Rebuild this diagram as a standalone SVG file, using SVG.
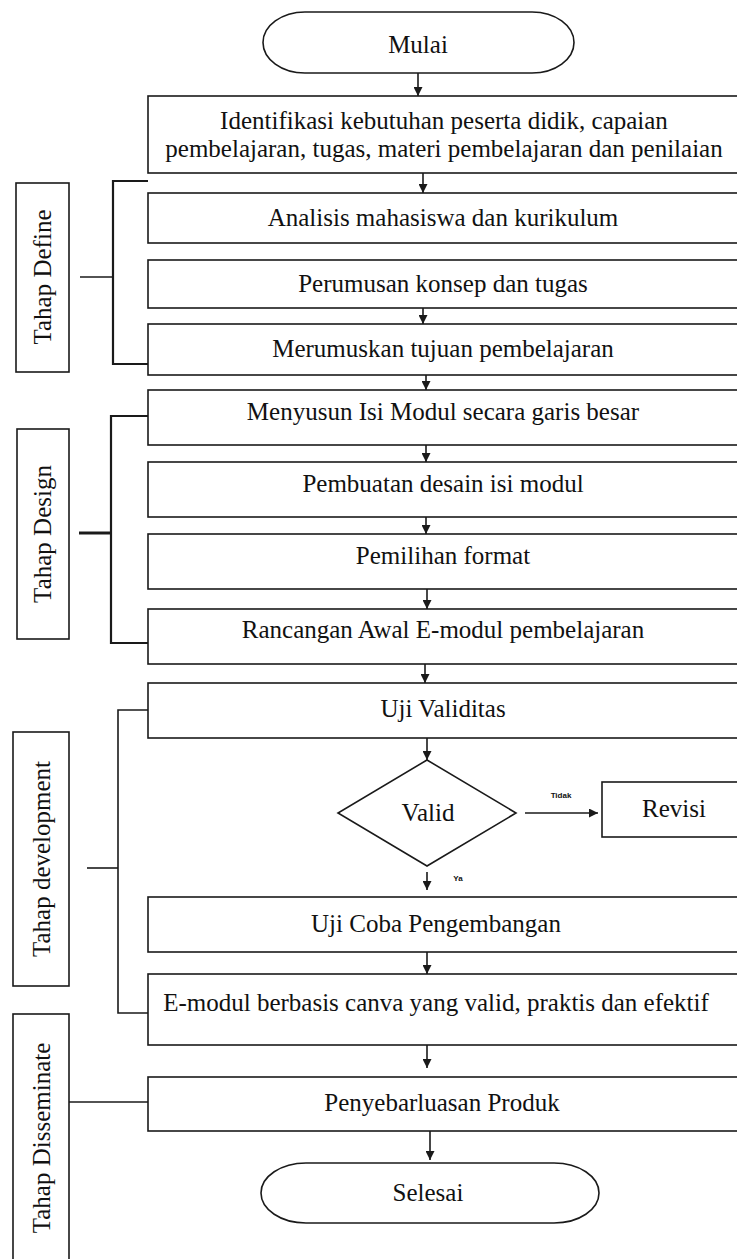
<svg xmlns="http://www.w3.org/2000/svg" width="737" height="1259" viewBox="0 0 737 1259">
<defs>
<style>
.b{fill:#fff;stroke:#1a1a1a;stroke-width:1.6}
.t{font-family:"Liberation Serif","Times New Roman",serif;font-size:25px;fill:#111;text-anchor:middle}
.l{fill:none;stroke:#1a1a1a;stroke-width:1.6}
.br{fill:none;stroke:#1a1a1a;stroke-width:2.2}
.s{font-family:"Liberation Sans",Arial,sans-serif;font-size:8px;font-weight:bold;fill:#111;text-anchor:middle}
</style>
<marker id="ah" viewBox="0 0 10 10" refX="10" refY="5" markerWidth="9" markerHeight="9" markerUnits="userSpaceOnUse" orient="auto">
<path d="M0,0 L10,5 L0,10 Z" fill="#1a1a1a"/>
</marker>
</defs>
<rect width="737" height="1259" fill="#fff"/>

<g id="connectors">
<line class="l" x1="418" y1="73" x2="418" y2="96" marker-end="url(#ah)"/>
<line class="l" x1="423" y1="173" x2="423" y2="193" marker-end="url(#ah)"/>
<line class="l" x1="423" y1="308" x2="423" y2="324" marker-end="url(#ah)"/>
<line class="l" x1="426" y1="375" x2="426" y2="390" marker-end="url(#ah)"/>
<line class="l" x1="426" y1="445" x2="426" y2="462" marker-end="url(#ah)"/>
<line class="l" x1="426" y1="517" x2="426" y2="534" marker-end="url(#ah)"/>
<line class="l" x1="427" y1="589" x2="427" y2="609" marker-end="url(#ah)"/>
<line class="l" x1="425" y1="664" x2="425" y2="683" marker-end="url(#ah)"/>
<line class="l" x1="427" y1="738" x2="427" y2="760" marker-end="url(#ah)"/>
<line class="l" x1="427" y1="872" x2="427" y2="890" marker-end="url(#ah)"/>
<line class="l" x1="427" y1="952" x2="427" y2="974" marker-end="url(#ah)"/>
<line class="l" x1="427" y1="1045" x2="427" y2="1068" marker-end="url(#ah)"/>
<line class="l" x1="430" y1="1131" x2="430" y2="1160" marker-end="url(#ah)"/>
<line class="l" x1="525" y1="813" x2="598" y2="813" marker-end="url(#ah)"/>
<text class="s" x="561" y="798">Tidak</text>
<text class="s" x="458" y="881">Ya</text>
<!-- phase brackets -->
<path class="br" d="M148,181 H113 V364 H148"/>
<line class="l" x1="80" y1="277" x2="113" y2="277"/>
<path class="br" d="M148,416 H111 V643 H148"/>
<line class="br" x1="79" y1="533" x2="111" y2="533" style="stroke-width:3"/>
<path class="l" d="M148,710 H118 V1013 H148"/>
<line class="l" x1="87" y1="868" x2="118" y2="868"/>
<line class="l" x1="69" y1="1102" x2="148" y2="1102"/>
</g>

<g id="mulai">
<rect class="b" x="263" y="12" width="311" height="61" rx="42" ry="30.5"/>
<text class="t" x="418" y="53">Mulai</text>
</g>
<g id="identifikasi">
<rect class="b" x="148" y="96" width="600" height="77"/>
<text class="t" x="444" y="129">Identifikasi kebutuhan peserta didik, capaian</text>
<text class="t" x="444" y="157">pembelajaran, tugas, materi pembelajaran dan penilaian</text>
</g>
<g id="analisis">
<rect class="b" x="148" y="193" width="600" height="50"/>
<text class="t" x="443" y="226">Analisis mahasiswa dan kurikulum</text>
</g>
<g id="perumusan">
<rect class="b" x="148" y="260" width="600" height="48"/>
<text class="t" x="443" y="292">Perumusan konsep dan tugas</text>
</g>
<g id="merumuskan">
<rect class="b" x="148" y="324" width="600" height="51"/>
<text class="t" x="443" y="357">Merumuskan tujuan pembelajaran</text>
</g>
<g id="menyusun">
<rect class="b" x="148" y="390" width="600" height="55"/>
<text class="t" x="443" y="420">Menyusun Isi Modul secara garis besar</text>
</g>
<g id="pembuatan">
<rect class="b" x="148" y="462" width="600" height="55"/>
<text class="t" x="443" y="492">Pembuatan desain isi modul</text>
</g>
<g id="pemilihan">
<rect class="b" x="148" y="534" width="600" height="55"/>
<text class="t" x="443" y="564">Pemilihan format</text>
</g>
<g id="rancangan">
<rect class="b" x="148" y="609" width="600" height="55"/>
<text class="t" x="443" y="638">Rancangan Awal E-modul pembelajaran</text>
</g>
<g id="uji-validitas">
<rect class="b" x="148" y="683" width="600" height="55"/>
<text class="t" x="443" y="717">Uji Validitas</text>
</g>
<g id="valid">
<polygon class="b" points="427,760 516,813 427,866 338,813"/>
<text class="t" x="428" y="821">Valid</text>
</g>
<g id="revisi">
<rect class="b" x="602" y="782" width="146" height="55"/>
<text class="t" x="674" y="817">Revisi</text>
</g>
<g id="uji-coba">
<rect class="b" x="148" y="897" width="600" height="55"/>
<text class="t" x="436" y="932">Uji Coba Pengembangan</text>
</g>
<g id="emodul">
<rect class="b" x="148" y="974" width="600" height="71"/>
<text class="t" x="436" y="1011">E-modul berbasis canva yang valid, praktis dan efektif</text>
</g>
<g id="penyebarluasan">
<rect class="b" x="148" y="1077" width="600" height="54"/>
<text class="t" x="442" y="1111">Penyebarluasan Produk</text>
</g>
<g id="selesai">
<rect class="b" x="261" y="1163" width="338" height="60" rx="45" ry="30"/>
<text class="t" x="428" y="1201">Selesai</text>
</g>

<g id="tahap-define">
<rect class="b" x="16" y="183" width="53" height="189"/>
<text class="t" transform="translate(51,277) rotate(-90)">Tahap Define</text>
</g>
<g id="tahap-design">
<rect class="b" x="17" y="429" width="52" height="210"/>
<text class="t" transform="translate(51,534) rotate(-90)">Tahap Design</text>
</g>
<g id="tahap-development">
<rect class="b" x="13" y="732" width="56" height="254"/>
<text class="t" transform="translate(50,859) rotate(-90)">Tahap development</text>
</g>
<g id="tahap-disseminate">
<rect class="b" x="13" y="1014" width="56" height="260"/>
<text class="t" transform="translate(50,1138) rotate(-90)">Tahap Disseminate</text>
</g>
</svg>
